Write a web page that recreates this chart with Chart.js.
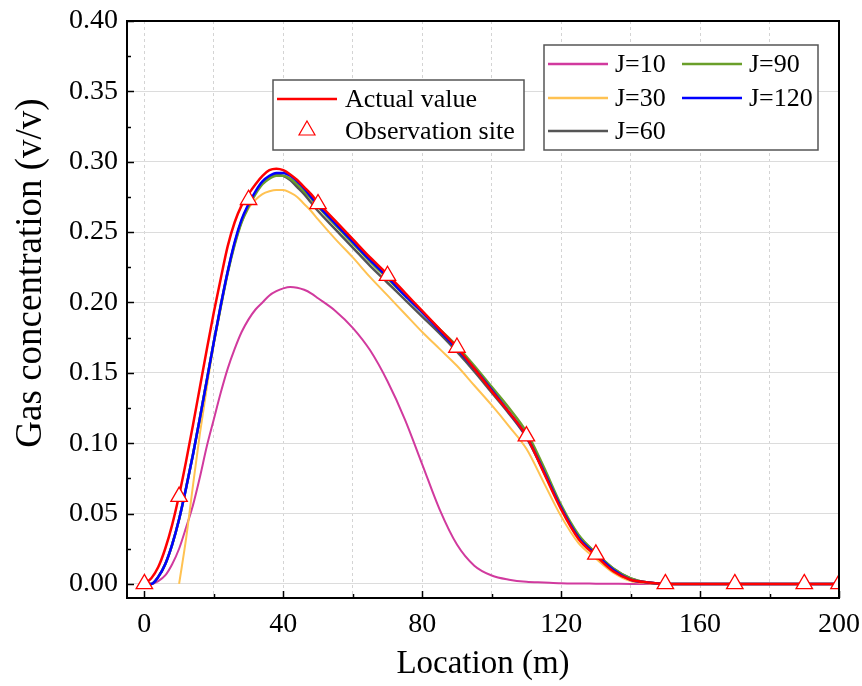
<!DOCTYPE html>
<html>
<head>
<meta charset="utf-8">
<script src="https://cdn.jsdelivr.net/npm/chart.js@4.4.0/dist/chart.umd.min.js"></script>
<style>
  html, body { margin: 0; padding: 0; background: #fff; }
  #wrap { width: 862px; height: 686px; }
</style>
</head>
<body>
<div id="wrap"><canvas id="gasChart" width="862" height="686"></canvas></div>
<script>
// location along the tunnel (m)
const locations = [0, 2, 4, 6, 8, 10, 12, 14, 16, 18, 20, 22, 24, 26, 28, 30, 32, 34, 36, 38, 40,
  42, 44, 46, 48, 50, 55, 60, 65, 70, 75, 80, 85, 90, 95, 100, 105, 110, 115, 120, 125, 130,
  135, 140, 145, 150, 160, 170, 180, 190, 200];

const actualValue = [0, 0.004, 0.012, 0.025, 0.042, 0.063, 0.087, 0.113, 0.140, 0.167, 0.193,
  0.217, 0.240, 0.257, 0.269, 0.277, 0.284, 0.290, 0.294, 0.295, 0.294, 0.291, 0.287, 0.282,
  0.277, 0.271, 0.258, 0.245, 0.232, 0.220, 0.207, 0.194, 0.181, 0.168, 0.153, 0.137, 0.122,
  0.105, 0.079, 0.053, 0.032, 0.020, 0.009, 0.003, 0.001, 0, 0, 0, 0, 0, 0];

const j10 = [0, 0, 0.002, 0.006, 0.014, 0.025, 0.040, 0.056, 0.076, 0.098, 0.117, 0.136,
  0.153, 0.167, 0.179, 0.188, 0.195, 0.200, 0.205, 0.208, 0.210, 0.211, 0.2105, 0.209, 0.2065,
  0.203, 0.194, 0.182, 0.166, 0.144, 0.117, 0.085, 0.053, 0.028, 0.013, 0.006, 0.003, 0.0015,
  0.001, 0.0005, 0.0003, 0.0002, 0.0001, 0, 0, 0, 0, 0, 0, 0, 0];

const j30 = [null, null, null, null, null, 0, 0.032, 0.070, 0.107, 0.140, 0.170, 0.196, 0.221,
  0.242, 0.257, 0.267, 0.273, 0.277, 0.279, 0.280, 0.280, 0.278, 0.275, 0.270, 0.265, 0.259,
  0.245, 0.232, 0.218, 0.205, 0.192, 0.179, 0.167, 0.155, 0.141, 0.127, 0.112, 0.096, 0.072,
  0.048, 0.029, 0.018, 0.008, 0.002, 0.0005, 0, 0, 0, 0, 0, 0];

const j60 = [0, 0, 0.005, 0.014, 0.028, 0.046, 0.068, 0.092, 0.118, 0.145, 0.172, 0.198, 0.222,
  0.242, 0.258, 0.269, 0.278, 0.285, 0.289, 0.291, 0.290, 0.287, 0.282, 0.277, 0.271, 0.265,
  0.252, 0.239, 0.226, 0.214, 0.202, 0.190, 0.178, 0.165, 0.151, 0.136, 0.121, 0.104, 0.080,
  0.054, 0.034, 0.022, 0.011, 0.004, 0.001, 0, 0, 0, 0, 0, 0];

const j90 = [0, 0, 0.005, 0.014, 0.028, 0.046, 0.068, 0.092, 0.118, 0.145, 0.172, 0.197, 0.221,
  0.241, 0.257, 0.268, 0.277, 0.284, 0.288, 0.290, 0.290, 0.288, 0.284, 0.279, 0.274, 0.268,
  0.255, 0.242, 0.229, 0.217, 0.205, 0.193, 0.181, 0.169, 0.155, 0.140, 0.125, 0.108, 0.083,
  0.056, 0.035, 0.022, 0.011, 0.004, 0.001, 0, 0, 0, 0, 0, 0];

const j120 = [0, 0, 0.005, 0.014, 0.028, 0.046, 0.068, 0.092, 0.118, 0.145, 0.172, 0.198, 0.222,
  0.243, 0.259, 0.270, 0.279, 0.286, 0.290, 0.292, 0.292, 0.290, 0.286, 0.281, 0.275, 0.269,
  0.256, 0.243, 0.230, 0.218, 0.205, 0.193, 0.180, 0.167, 0.153, 0.138, 0.122, 0.105, 0.080,
  0.054, 0.033, 0.021, 0.010, 0.003, 0.001, 0, 0, 0, 0, 0, 0];

const obsLocations = [0, 10, 30, 50, 70, 90, 110, 130, 150, 170, 190, 200];
const obsValues = [0, 0.062, 0.273, 0.270, 0.219, 0.168, 0.105, 0.021, 0, 0, 0, 0];

const xTicks = [0, 20, 40, 60, 80, 100, 120, 140, 160, 180, 200];
const yTicks = [0, 0.05, 0.10, 0.15, 0.20, 0.25, 0.30, 0.35, 0.40];

const colors = {
  actual: '#FF0000',
  j10: '#D13A9E',
  j30: '#FFC252',
  j60: '#555555',
  j90: '#6A9F2A',
  j120: '#0000FF'
};

function pts(ys) {
  return locations.map((x, i) => ({ x: x, y: ys[i] }));
}

function curve(label, ys, color, width, order) {
  return {
    label: label,
    data: pts(ys),
    borderColor: color,
    backgroundColor: color,
    borderWidth: width,
    pointRadius: 0,
    cubicInterpolationMode: 'monotone',
    fill: false,
    order: order
  };
}

const serif = "'Liberation Serif', 'Times New Roman', serif";
Chart.defaults.font.family = serif;
Chart.defaults.color = '#000';

// frame, inward ticks, y title and the two legend boxes
const framePlugin = {
  id: 'frame',
  afterDraw(chart) {
    const ctx = chart.ctx;
    const a = chart.chartArea;
    const x = chart.scales.x;
    const y = chart.scales.y;
    ctx.save();
    ctx.strokeStyle = '#000';
    ctx.lineWidth = 1.5;
    ctx.beginPath();
    for (let v = 0; v <= 200; v += 20) {
      const px = Math.round(x.getPixelForValue(v)) + 0.5;
      const len = v % 40 === 0 ? 7 : 4;
      ctx.moveTo(px, a.bottom);
      ctx.lineTo(px, a.bottom - len);
    }
    for (let i = 0; i <= 16; i++) {
      const py = Math.round(y.getPixelForValue(i * 0.025)) + 0.5;
      const len = i % 2 === 0 ? 7 : 4;
      ctx.moveTo(a.left, py);
      ctx.lineTo(a.left + len, py);
    }
    ctx.stroke();
    ctx.lineWidth = 2;
    ctx.strokeRect(a.left, a.top, a.right - a.left, a.bottom - a.top);

    // y axis title
    ctx.save();
    ctx.translate(31, 273);
    ctx.rotate(-Math.PI / 2);
    ctx.font = '37px ' + serif;
    ctx.textAlign = 'center';
    ctx.textBaseline = 'middle';
    ctx.fillStyle = '#000';
    ctx.fillText('Gas concentration (v/v)', 0, 0);
    ctx.restore();

    const ds = chart.data.datasets;
    const byLabel = l => ds.find(d => d.label === l);
    ctx.font = '26px ' + serif;
    ctx.textBaseline = 'middle';

    // legend 1
    ctx.fillStyle = '#fff';
    ctx.fillRect(273, 80, 251, 70);
    ctx.strokeStyle = '#555';
    ctx.lineWidth = 1.5;
    ctx.strokeRect(273, 80, 251, 70);
    const act = byLabel('Actual value');
    ctx.strokeStyle = act.borderColor;
    ctx.lineWidth = 2.5;
    ctx.beginPath(); ctx.moveTo(277, 99); ctx.lineTo(337, 99); ctx.stroke();
    const obs = byLabel('Observation site');
    ctx.strokeStyle = obs.borderColor;
    ctx.lineWidth = 1.2;
    ctx.beginPath();
    ctx.moveTo(307, 121); ctx.lineTo(315, 135); ctx.lineTo(299, 135); ctx.closePath();
    ctx.stroke();
    ctx.fillStyle = '#000';
    ctx.fillText(act.label, 345, 100);
    ctx.fillText(obs.label, 345, 132);

    // legend 2
    ctx.fillStyle = '#fff';
    ctx.fillRect(544, 45, 274, 105);
    ctx.strokeStyle = '#555';
    ctx.lineWidth = 1.5;
    ctx.strokeRect(544, 45, 274, 105);
    const items = [
      ['J=10', 548, 64], ['J=90', 682, 64],
      ['J=30', 548, 98], ['J=120', 682, 98],
      ['J=60', 548, 131]
    ];
    items.forEach(([lab, lx, ly]) => {
      const d = byLabel(lab);
      ctx.strokeStyle = d.borderColor;
      ctx.lineWidth = 2.5;
      ctx.beginPath(); ctx.moveTo(lx, ly); ctx.lineTo(lx + 60, ly); ctx.stroke();
      ctx.fillStyle = '#000';
      ctx.fillText(d.label, lx + 67, ly + 1);
    });
    ctx.restore();
  }
};

const ctx = document.getElementById('gasChart').getContext('2d');

new Chart(ctx, {
  type: 'line',
  data: {
    datasets: [
      {
        label: 'Observation site',
        data: obsLocations.map((x, i) => ({ x: x, y: obsValues[i] })),
        showLine: false,
        pointStyle: 'triangle',
        pointRadius: 9.5,
        pointBorderWidth: 1.3,
        borderColor: '#FF0000',
        backgroundColor: '#FFFFFF',
        clip: 0,
        order: 0
      },
      curve('Actual value', actualValue, colors.actual, 2.5, 1),
      curve('J=120', j120, colors.j120, 2.5, 2),
      curve('J=90', j90, colors.j90, 2.5, 3),
      curve('J=60', j60, colors.j60, 2.5, 4),
      curve('J=30', j30, colors.j30, 2, 5),
      curve('J=10', j10, colors.j10, 2, 6)
    ]
  },
  options: {
    responsive: false,
    animation: false,
    layout: { padding: { top: 21, right: 23, left: 0, bottom: 0 } },
    plugins: {
      legend: { display: false },
      tooltip: { enabled: false }
    },
    scales: {
      x: {
        type: 'linear',
        min: -5,
        max: 200,
        afterBuildTicks: s => { s.ticks = xTicks.map(v => ({ value: v })); },
        afterFit: s => { s.height = 88; s.paddingLeft = 0; s.paddingRight = 0; },
        grid: { color: '#d4d4d4', lineWidth: 1, drawTicks: false },
        border: { display: false, dash: [3, 3] },
        ticks: {
          padding: 10,
          maxRotation: 0,
          font: { size: 28 },
          callback: v => (v % 40 === 0 ? String(v) : '')
        },
        title: {
          display: true,
          text: 'Location (m)',
          font: { size: 33 },
          padding: { top: 0, bottom: 2 }
        }
      },
      y: {
        min: -0.01,
        max: 0.40,
        afterBuildTicks: s => { s.ticks = yTicks.map(v => ({ value: v })); },
        afterFit: s => { s.width = 127; s.paddingTop = 0; s.paddingBottom = 0; },
        grid: { color: '#dcdcdc', lineWidth: 1, drawTicks: false },
        border: { display: false },
        ticks: {
          padding: 9,
          font: { size: 28 },
          callback: v => v.toFixed(2)
        }
      }
    }
  },
  plugins: [framePlugin]
});
</script>
</body>
</html>
